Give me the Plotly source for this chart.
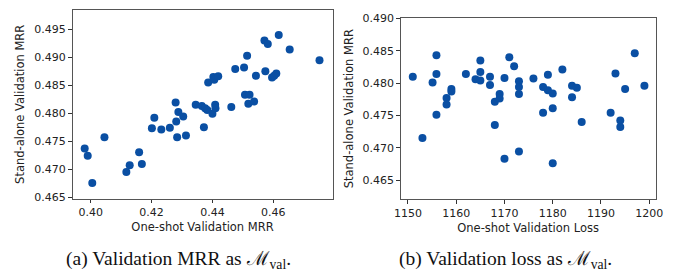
import plotly.graph_objects as go

# (a) one-shot validation MRR vs stand-alone validation MRR
mrr_oneshot = [0.398, 0.399, 0.4005, 0.4045, 0.4117, 0.4128, 0.4159, 0.4168, 0.4201, 0.4209,
               0.4232, 0.426, 0.4279, 0.4281, 0.4284, 0.4288, 0.4304, 0.4313, 0.4345, 0.4365,
               0.4372, 0.4376, 0.4383, 0.4386, 0.4400, 0.4403, 0.4406, 0.4409, 0.4410, 0.4419,
               0.4462, 0.4475, 0.4504, 0.4507, 0.4514, 0.4518, 0.4522, 0.4537, 0.4543, 0.4571,
               0.4574, 0.4582, 0.4596, 0.4603, 0.4610, 0.4618, 0.4654, 0.4752]
mrr_standalone_a = [0.4737, 0.4724, 0.4675, 0.4757, 0.4695, 0.4707, 0.4730, 0.4709, 0.4773, 0.4792,
                    0.4771, 0.4774, 0.4819, 0.4785, 0.4757, 0.4802, 0.4794, 0.4760, 0.4815, 0.4813,
                    0.4775, 0.4809, 0.4806, 0.4855, 0.4799, 0.4865, 0.4860, 0.4815, 0.4809, 0.4866,
                    0.4811, 0.4879, 0.4882, 0.4833, 0.4903, 0.4817, 0.4833, 0.4821, 0.4867, 0.4930,
                    0.4875, 0.4924, 0.4864, 0.4867, 0.4871, 0.4940, 0.4914, 0.4895]

# (b) one-shot validation loss vs stand-alone validation MRR
loss_oneshot = [1151, 1153, 1155.1, 1155.9, 1155.9, 1155.9, 1158, 1158, 1159, 1159,
                1162, 1164, 1165, 1165, 1165, 1167, 1167, 1168, 1168, 1169,
                1169, 1170, 1170, 1171, 1172, 1173, 1173, 1173, 1173, 1176,
                1178, 1178, 1179, 1179, 1180, 1180, 1180, 1182, 1184, 1184,
                1185, 1186, 1192, 1193, 1194, 1194, 1195, 1197, 1199]
mrr_standalone_b = [0.4810, 0.4715, 0.4801, 0.4843, 0.4814, 0.4751, 0.4777, 0.4767, 0.4791, 0.4787,
                    0.4814, 0.4806, 0.4835, 0.4817, 0.4804, 0.4810, 0.4797, 0.4771, 0.4735, 0.4783,
                    0.4776, 0.4808, 0.4683, 0.4840, 0.4826, 0.4803, 0.4794, 0.4783, 0.4694, 0.4807,
                    0.4794, 0.4754, 0.4813, 0.4789, 0.4784, 0.4761, 0.4676, 0.4821, 0.4796, 0.4778,
                    0.4793, 0.4740, 0.4754, 0.4815, 0.4742, 0.4732, 0.4791, 0.4846, 0.4796]

xticks_a = [0.40, 0.42, 0.44, 0.46]
yticks_a = [0.465, 0.470, 0.475, 0.480, 0.485, 0.490, 0.495]
xticks_b = [1150, 1160, 1170, 1180, 1190, 1200]
yticks_b = [0.465, 0.470, 0.475, 0.480, 0.485, 0.490]

MARK = "#0a4fa3"
TICKFONT = dict(family="DejaVu Sans", size=11, color="#222222")
TITLEFONT = dict(family="DejaVu Sans", size=11.5, color="#222222")

fig = go.Figure()
fig.add_trace(go.Scatter(x=mrr_oneshot, y=mrr_standalone_a, mode="markers",
                         marker=dict(color=MARK, size=8, line=dict(width=0)),
                         xaxis="x", yaxis="y", showlegend=False))
fig.add_trace(go.Scatter(x=loss_oneshot, y=mrr_standalone_b, mode="markers",
                         marker=dict(color=MARK, size=8, line=dict(width=0)),
                         xaxis="x2", yaxis="y2", showlegend=False))

common = dict(showgrid=False, zeroline=False, showline=True, linecolor="#555555", linewidth=1,
              mirror=True, ticks="outside", ticklen=3.5, tickcolor="#333333", tickwidth=1,
              tickfont=TICKFONT)

W, H = 673, 278
fig.update_layout(
    width=W, height=H, margin=dict(l=0, r=0, t=0, b=0),
    paper_bgcolor="white", plot_bgcolor="white",
    xaxis=dict(domain=[67/W, 333/W], range=[0.394, 0.4795], tickvals=xticks_a,
               ticktext=[f"{v:.2f}" for v in xticks_a], anchor="y",
               title=dict(text="One-shot Validation MRR", font=TITLEFONT, standoff=4), **common),
    yaxis=dict(domain=[(H-201)/H, (H-5)/H], range=[0.4647, 0.4985], tickvals=yticks_a,
               ticktext=[f"{v:.3f}" for v in yticks_a], anchor="x",
               title=dict(text="Stand-alone Validation MRR", font=TITLEFONT, standoff=7), **common),
    xaxis2=dict(domain=[402.7/W, 663.3/W], range=[1148.5, 1201.3], tickvals=xticks_b,
                ticktext=[str(v) for v in xticks_b], anchor="y2", ticklabeloverflow="allow",
                title=dict(text="One-shot Validation Loss", font=TITLEFONT, standoff=4), **common),
    yaxis2=dict(domain=[(H-201.7)/H, (H-13.3)/H], range=[0.462, 0.4901], tickvals=yticks_b,
                ticktext=[f"{v:.3f}" for v in yticks_b], anchor="x2",
                title=dict(text="Stand-alone Validation MRR", font=TITLEFONT, standoff=6), **common),
    annotations=[
        dict(text="(a) Validation MRR as ℳ<sub>val</sub>.", x=175/W, y=(H-265)/H,
             xref="paper", yref="paper", showarrow=False, xanchor="center", yanchor="middle",
             font=dict(family="Liberation Serif", size=19.5, color="#111111")),
        dict(text="(b) Validation loss as ℳ<sub>val</sub>.", x=510/W, y=(H-265)/H,
             xref="paper", yref="paper", showarrow=False, xanchor="center", yanchor="middle",
             font=dict(family="Liberation Serif", size=19.5, color="#111111")),
    ],
)

fig.write_html("out.html", config={"displayModeBar": False},
               post_script="document.body.style.margin='0';document.body.style.overflow='hidden';")
